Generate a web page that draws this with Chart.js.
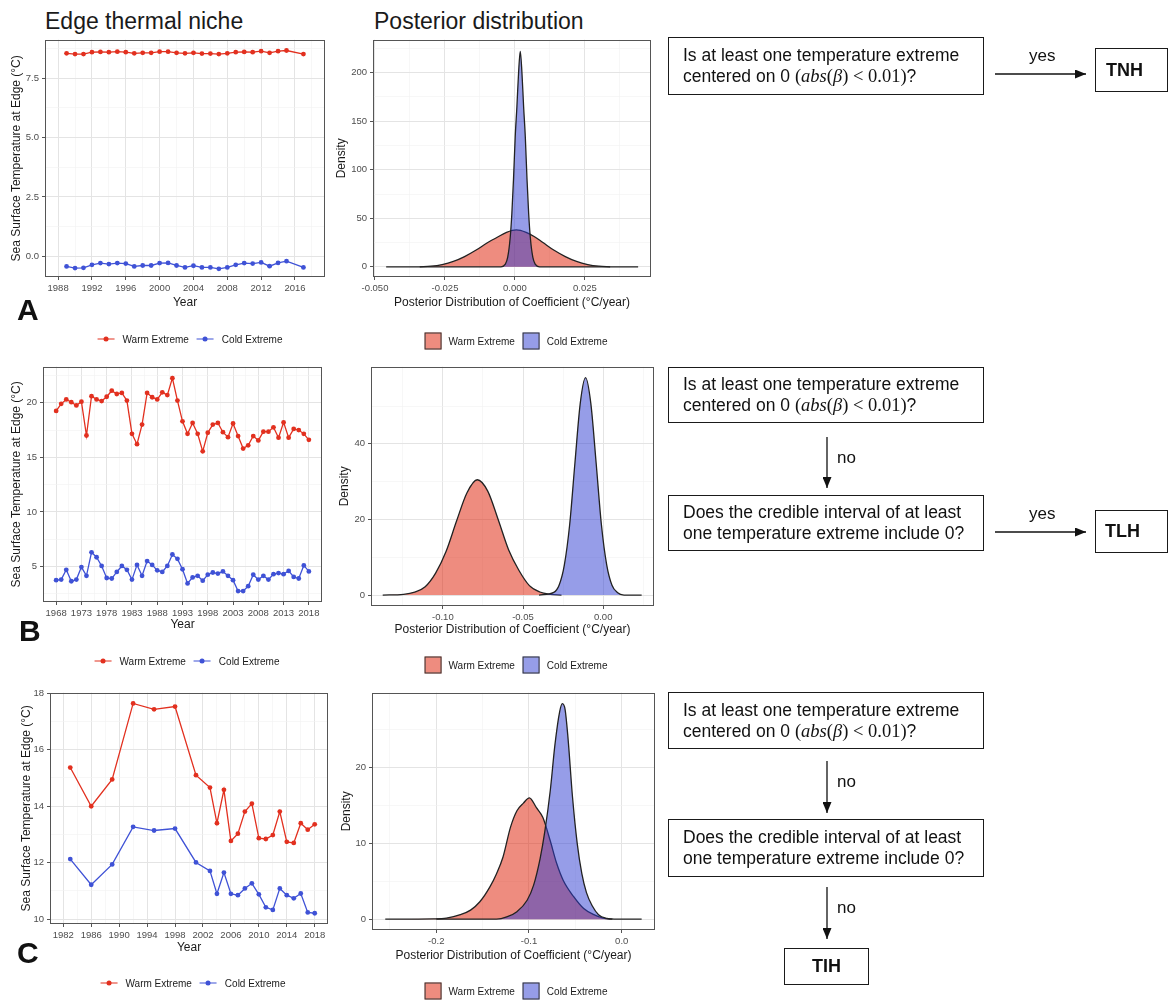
<!DOCTYPE html>
<html>
<head>
<meta charset="utf-8">
<title>Edge thermal niche and posterior distribution</title>
<script src="https://cdn.jsdelivr.net/npm/chart.js@4.4.1/dist/chart.umd.min.js"></script>
<style>
  html, body { margin: 0; padding: 0; background: #fff; }
  #fig { position: relative; width: 1174px; height: 1000px; overflow: hidden;
         font-family: "Liberation Sans", Arial, sans-serif; color: #111; }
  #fig canvas { position: absolute; }
  .head { position: absolute; font-size: 23px; line-height: 1; color: #1a1a1a; }
  .tag { position: absolute; font-size: 30px; font-weight: bold; line-height: 1; }
  .legend { position: absolute; display: flex; align-items: center; font-size: 10px; color: #1a1a1a;
            transform: translate(-50%, -50%); white-space: nowrap; }
  .legend .item { display: flex; align-items: center; margin-right: 8px; }
  .legend .item:last-child { margin-right: 0; }
  .legend .key-line { position: relative; width: 17px; height: 1.4px; margin-right: 8px; }
  .legend .key-line i { position: absolute; left: 6px; top: -2px; width: 5px; height: 5px; border-radius: 50%; }
  .legend .key-box { width: 17px; height: 17px; border: 1.3px solid #333; margin-right: 7px; box-sizing: border-box; }
  .box { position: absolute; border: 1.5px solid #1a1a1a; box-sizing: border-box; font-size: 17.5px;
         line-height: 21px; padding-left: 14px; display: flex; flex-direction: column; justify-content: center; }
  .end { position: absolute; border: 1.5px solid #1a1a1a; box-sizing: border-box; font-size: 18px;
         font-weight: bold; display: flex; align-items: center; }
  .lbl { position: absolute; font-size: 17px; line-height: 1; transform: translateY(-50%); }
  .m { font-family: "Liberation Serif", "DejaVu Serif", serif; font-size: 18.5px; }
  .m i { font-style: italic; }
</style>
</head>
<body>
<div id="fig">
  <div class="head" style="left:45px;top:10px">Edge thermal niche</div>
  <div class="head" style="left:374px;top:10px">Posterior distribution</div>

  <canvas id="sstA"></canvas>
  <canvas id="postA"></canvas>
  <canvas id="sstB"></canvas>
  <canvas id="postB"></canvas>
  <canvas id="sstC"></canvas>
  <canvas id="postC"></canvas>

  <div class="tag" style="left:17px;top:295px">A</div>
  <div class="tag" style="left:19px;top:616px">B</div>
  <div class="tag" style="left:17px;top:938px">C</div>

  <!-- decision tree -->
  <svg width="1174" height="1000" style="position:absolute;left:0;top:0">
    <defs>
      <marker id="head" markerWidth="11" markerHeight="9" refX="11" refY="4.5" orient="auto" markerUnits="userSpaceOnUse">
        <path d="M0,0 L11,4.5 L0,9 z" fill="#111"/>
      </marker>
    </defs>
    <g stroke="#111" stroke-width="1.3" marker-end="url(#head)">
      <line x1="995" y1="74" x2="1086" y2="74"/>
      <line x1="827" y1="437" x2="827" y2="488"/>
      <line x1="995" y1="532" x2="1086" y2="532"/>
      <line x1="827" y1="761" x2="827" y2="813"/>
      <line x1="827" y1="887" x2="827" y2="939"/>
    </g>
  </svg>

  <div class="box" style="left:668px;top:37px;width:316px;height:58px">
    <div>Is at least one temperature extreme</div>
    <div>centered on 0 <span class="m">(<i>abs</i>(<i>β</i>) &lt; 0.01)</span>?</div>
  </div>
  <div class="lbl" style="left:1029px;top:55px">yes</div>
  <div class="end" style="left:1095px;top:48px;width:73px;height:44px;padding-left:10px">TNH</div>

  <div class="box" style="left:668px;top:367px;width:316px;height:56px">
    <div>Is at least one temperature extreme</div>
    <div>centered on 0 <span class="m">(<i>abs</i>(<i>β</i>) &lt; 0.01)</span>?</div>
  </div>
  <div class="lbl" style="left:837px;top:457px">no</div>
  <div class="box" style="left:668px;top:495px;width:316px;height:56px">
    <div>Does the credible interval of at least</div>
    <div>one temperature extreme include 0?</div>
  </div>
  <div class="lbl" style="left:1029px;top:513px">yes</div>
  <div class="end" style="left:1095px;top:510px;width:73px;height:43px;padding-left:9px">TLH</div>

  <div class="box" style="left:668px;top:692px;width:316px;height:57px">
    <div>Is at least one temperature extreme</div>
    <div>centered on 0 <span class="m">(<i>abs</i>(<i>β</i>) &lt; 0.01)</span>?</div>
  </div>
  <div class="lbl" style="left:837px;top:781px">no</div>
  <div class="box" style="left:668px;top:819px;width:316px;height:58px">
    <div>Does the credible interval of at least</div>
    <div>one temperature extreme include 0?</div>
  </div>
  <div class="lbl" style="left:837px;top:907px">no</div>
  <div class="end" style="left:784px;top:948px;width:85px;height:37px;justify-content:center">TIH</div>
</div>

<script>
// --- edge sea surface temperature (°C) ---
const yearsA = [1989, 1990, 1991, 1992, 1993, 1994, 1995, 1996, 1997, 1998, 1999, 2000, 2001, 2002,
                2003, 2004, 2005, 2006, 2007, 2008, 2009, 2010, 2011, 2012, 2013, 2014, 2015, 2017];
const warmA = [8.55, 8.52, 8.52, 8.6, 8.61, 8.6, 8.62, 8.6, 8.55, 8.57, 8.57, 8.62, 8.62, 8.57,
               8.55, 8.57, 8.54, 8.54, 8.52, 8.55, 8.6, 8.61, 8.6, 8.64, 8.57, 8.64, 8.67, 8.52];
const coldA = [-0.43, -0.5, -0.49, -0.36, -0.29, -0.33, -0.29, -0.31, -0.43, -0.39, -0.39, -0.29, -0.28, -0.39,
               -0.47, -0.4, -0.47, -0.47, -0.53, -0.47, -0.36, -0.29, -0.31, -0.26, -0.42, -0.28, -0.21, -0.47];

const yearsB = [1968, 1969, 1970, 1971, 1972, 1973, 1974, 1975, 1976, 1977,
                1978, 1979, 1980, 1981, 1982, 1983, 1984, 1985, 1986, 1987,
                1988, 1989, 1990, 1991, 1992, 1993, 1994, 1995, 1996, 1997,
                1998, 1999, 2000, 2001, 2002, 2003, 2004, 2005, 2006, 2007,
                2008, 2009, 2010, 2011, 2012, 2013, 2014, 2015, 2016, 2017, 2018];
const warmB = [19.25, 19.9, 20.3, 20.05, 19.75, 20.1, 17.0, 20.6, 20.3, 20.15,
               20.55, 21.1, 20.8, 20.9, 20.2, 17.15, 16.2, 18.0, 20.9, 20.5,
               20.3, 20.95, 20.7, 22.25, 20.2, 18.3, 17.15, 18.15, 17.15, 15.55,
               17.25, 18.0, 18.15, 17.3, 16.85, 18.1, 16.95, 15.8, 16.1, 16.95,
               16.55, 17.35, 17.35, 17.75, 16.8, 18.2, 16.8, 17.6, 17.5, 17.15, 16.6];
const coldB = [3.75, 3.8, 4.7, 3.65, 3.8, 4.95, 4.15, 6.3, 5.85, 5.05,
               3.95, 3.9, 4.5, 5.05, 4.7, 3.8, 5.15, 4.15, 5.5, 5.15,
               4.65, 4.5, 5.05, 6.1, 5.7, 4.75, 3.45, 4.0, 4.15, 3.7,
               4.25, 4.45, 4.35, 4.55, 4.15, 3.75, 2.75, 2.75, 3.2, 4.25,
               3.8, 4.15, 3.8, 4.3, 4.4, 4.3, 4.6, 4.05, 3.9, 5.1, 4.55];

const yearsC = [1983, 1986, 1989, 1992, 1995, 1998, 2001, 2003, 2004, 2005, 2006, 2007,
                2008, 2009, 2010, 2011, 2012, 2013, 2014, 2015, 2016, 2017, 2018];
const warmC = [15.37, 14.0, 14.95, 17.64, 17.43, 17.53, 15.1, 14.66, 13.4, 14.58, 12.77, 13.03,
               13.81, 14.09, 12.87, 12.84, 12.98, 13.81, 12.74, 12.7, 13.4, 13.17, 13.36];
const coldC = [12.13, 11.22, 11.94, 13.27, 13.14, 13.21, 12.01, 11.71, 10.9, 11.65, 10.9, 10.85,
               11.09, 11.27, 10.88, 10.42, 10.33, 11.09, 10.85, 10.74, 10.91, 10.24, 10.21];

// --- posterior density of the trend coefficient (°C/year) ---
const coefWarmA = [-0.034, -0.030, -0.026, -0.022, -0.018, -0.014, -0.010, -0.006, -0.003, 0.0005,
                   0.004, 0.007, 0.010, 0.014, 0.018, 0.022, 0.026, 0.030, 0.034];
const densWarmA = [0, 0.6, 2.3, 5.5, 10.5, 17, 24.5, 31, 35.5, 38, 35.5, 31, 25, 17, 10.5, 5.5, 2.3, 0.6, 0];
const coefColdA = [-0.046, -0.0050, -0.0035, -0.0026, -0.0017, -0.0011, -0.0005, 0.0001, 0.0007, 0.0013, 0.0019,
                   0.0025, 0.0031, 0.0037, 0.0043, 0.0049, 0.0055, 0.0064, 0.0073, 0.0088, 0.044];
const densColdA = [0, 0, 2.5, 9.7, 30, 55, 91, 134, 165, 200, 222, 200, 165, 134, 91, 55, 30, 9.7, 2.5, 0, 0];

const coefWarmB = [-0.1375, -0.1245, -0.1175, -0.111, -0.1045, -0.098, -0.0915, -0.085, -0.0785,
                   -0.072, -0.0655, -0.059, -0.0525, -0.046, -0.0395, -0.033, -0.026];
const densWarmB = [0, 0.2, 0.8, 2.2, 5.8, 11.5, 19.5, 27, 30.5, 27.5, 20, 12, 6.5, 2.5, 0.8, 0.2, 0];
const coefColdB = [-0.040, -0.0308, -0.0275, -0.0242, -0.0209, -0.0176, -0.0143, -0.011, -0.0077,
                   -0.0044, -0.0011, 0.0022, 0.0055, 0.0088, 0.013, 0.024];
const densColdB = [0, 0.7, 2.6, 8, 18.6, 35, 50.7, 57.5, 50.7, 35, 18.6, 8, 2.6, 0.7, 0, 0];

const coefWarmC = [-0.255, -0.203, -0.189, -0.174, -0.163, -0.153, -0.142, -0.135, -0.128, -0.120, -0.113, -0.106,
                   -0.0996, -0.092, -0.085, -0.077, -0.070, -0.063, -0.052, -0.041, -0.030, -0.020, -0.010];
const densWarmC = [0, 0.05, 0.15, 0.6, 1.2, 2.3, 4.3, 6.0, 8.2, 12.1, 14.3, 15.3,
                   16.0, 14.7, 13.4, 10.3, 7.3, 5.1, 3.0, 1.4, 0.6, 0.13, 0];
const coefColdC = [-0.200, -0.135, -0.124, -0.113, -0.102, -0.095, -0.088, -0.083, -0.077, -0.072, -0.067, -0.064,
                   -0.061, -0.058, -0.053, -0.048, -0.043, -0.038, -0.032, -0.025, -0.016, -0.008, 0.0215];
const densColdC = [0, 0, 0.3, 1.0, 2.5, 4.5, 8, 11.5, 17, 23, 27.3, 28.4,
                   27.6, 24, 16, 10, 6, 3.5, 1.8, 0.6, 0.1, 0, 0];

// --- axis breaks ---
const yearTicksA = [1988, 1992, 1996, 2000, 2004, 2008, 2012, 2016];
const sstTicksA = [0, 2.5, 5, 7.5];
const yearTicksB = [1968, 1973, 1978, 1983, 1988, 1993, 1998, 2003, 2008, 2013, 2018];
const sstTicksB = [5, 10, 15, 20];
const yearTicksC = [1982, 1986, 1990, 1994, 1998, 2002, 2006, 2010, 2014, 2018];
const sstTicksC = [10, 12, 14, 16, 18];
const coefTicksA = [-0.05, -0.025, 0, 0.025];
const densTicksA = [0, 50, 100, 150, 200];
const coefTicksB = [-0.1, -0.05, 0];
const densTicksB = [0, 20, 40];
const coefTicksC = [-0.2, -0.1, 0];
const densTicksC = [0, 10, 20];

const seriesNames = ['Warm Extreme', 'Cold Extreme'];
const lineColors = ['#e2301f', '#3f52d6'];
const fillColors = ['rgba(222, 35, 10, 0.52)', 'rgba(45, 60, 210, 0.5)'];

Chart.defaults.font.family = '"Liberation Sans", Arial, sans-serif';
Chart.defaults.color = '#4d4d4d';

const GRID_MAJOR = '#e4e4e4';
const GRID_MINOR = '#f2f2f2';

// major breaks plus ggplot-style minor breaks halfway between them
function withMinor(majors, min, max) {
  const step = majors[1] - majors[0];
  const out = majors.map(v => ({ value: v, main: true }));
  for (let v = majors[0] - step / 2; v <= max; v += step) {
    if (v >= min) out.push({ value: v, main: false });
  }
  return out.sort((a, b) => a.value - b.value);
}

function axis(o) {
  const ticks = withMinor(o.ticks, o.min, o.max);
  const isMain = c => c.tick && c.tick.main;
  return {
    type: 'linear',
    bounds: 'data',
    min: o.min,
    max: o.max,
    afterBuildTicks: s => { s.ticks = ticks.map(t => ({ ...t })); },
    afterFit: s => { if (s.isHorizontal()) s.height = o.size; else s.width = o.size; },
    ticks: {
      autoSkip: false, maxRotation: 0, padding: 3, color: '#4d4d4d', font: { size: 9.5 },
      callback: (v, i, arr) => arr[i].main ? v.toFixed(o.digits) : ''
    },
    grid: {
      color: c => isMain(c) ? GRID_MAJOR : GRID_MINOR,
      lineWidth: c => isMain(c) ? 1 : 0.6,
      tickLength: 3,
      tickColor: c => isMain(c) ? '#555' : 'rgba(0,0,0,0)'
    },
    border: { display: false },
    title: { display: true, text: o.title, color: '#1a1a1a', font: { size: 12 }, padding: o.pad }
  };
}

const panelBorder = {
  id: 'panelBorder',
  afterDatasetsDraw(chart) {
    const { ctx, chartArea: a } = chart;
    ctx.save();
    ctx.strokeStyle = '#555';
    ctx.lineWidth = 1;
    ctx.strokeRect(Math.round(a.left) + 0.5, Math.round(a.top) + 0.5,
                   Math.round(a.right - a.left) - 1, Math.round(a.bottom - a.top) - 1);
    ctx.restore();
  }
};

// size the canvas so the plotting panel lands on the given box
function placeCanvas(id, plot, yW, xH) {
  const c = document.getElementById(id);
  const left = plot.l - yW, top = plot.t - 6;
  c.width = plot.r + 6 - left;
  c.height = plot.b + xH - top;
  c.style.left = left + 'px';
  c.style.top = top + 'px';
  return c;
}

function drawPanel(id, plot, xAxis, yAxis, datasets) {
  const canvas = placeCanvas(id, plot, yAxis.size, xAxis.size);
  new Chart(canvas, {
    type: 'line',
    data: { datasets },
    options: {
      responsive: false,
      animation: false,
      layout: { padding: { top: 6, right: 6, left: 0, bottom: 0 } },
      plugins: { legend: { display: false }, tooltip: { enabled: false } },
      scales: { x: axis(xAxis), y: axis(yAxis) }
    },
    plugins: [panelBorder]
  });
}

function sstSeries(years, warm, cold) {
  return [warm, cold].map((vals, k) => ({
    label: seriesNames[k],
    data: years.map((yr, i) => ({ x: yr, y: vals[i] })),
    borderColor: lineColors[k],
    backgroundColor: lineColors[k],
    borderWidth: 1.3,
    pointRadius: 2.4,
    pointBorderWidth: 0,
    tension: 0,
    order: 2 - k
  }));
}

function densitySeries(xw, dw, xc, dc) {
  return [[xw, dw], [xc, dc]].map(([xs, ds], k) => ({
    label: seriesNames[k],
    data: xs.map((x, i) => ({ x, y: ds[i] })),
    borderColor: '#222',
    borderWidth: 1.3,
    backgroundColor: fillColors[k],
    fill: 'origin',
    pointRadius: 0,
    cubicInterpolationMode: 'monotone',
    order: 2 - k
  }));
}

const yearTitle = 'Year';
const sstTitle = 'Sea Surface Temperature at Edge (°C)';
const coefTitle = 'Posterior Distribution of Coefficient (°C/year)';
const densTitle = 'Density';

drawPanel('sstA', { l: 45, t: 37, r: 325, b: 277 },
  { ticks: yearTicksA, min: 1986.45, max: 2019.55, digits: 0, size: 33, title: yearTitle, pad: 0 },
  { ticks: sstTicksA, min: -0.875, max: 9.125, digits: 1, size: 45, title: sstTitle, pad: { top: 9.8, bottom: 0 } },
  sstSeries(yearsA, warmA, coldA));

drawPanel('postA', { l: 373, t: 37, r: 651, b: 277 },
  { ticks: coefTicksA, min: -0.0507, max: 0.0486, digits: 3, size: 33, title: coefTitle, pad: 0 },
  { ticks: densTicksA, min: -10.5, max: 234, digits: 0, size: 40, title: densTitle, pad: { top: 1.8, bottom: 0 } },
  densitySeries(coefWarmA, densWarmA, coefColdA, densColdA));

drawPanel('sstB', { l: 43, t: 364, r: 322, b: 602 },
  { ticks: yearTicksB, min: 1965.4, max: 2020.6, digits: 0, size: 30, title: yearTitle, pad: 0 },
  { ticks: sstTicksB, min: 1.75, max: 23.3, digits: 0, size: 43, title: sstTitle, pad: { top: 9.8, bottom: 0 } },
  sstSeries(yearsB, warmB, coldB));

drawPanel('postB', { l: 371, t: 364, r: 654, b: 606 },
  { ticks: coefTicksB, min: -0.1448, max: 0.0317, digits: 2, size: 31, title: coefTitle, pad: 0 },
  { ticks: densTicksB, min: -2.9, max: 60.4, digits: 0, size: 40, title: densTitle, pad: { top: 6.8, bottom: 0 } },
  densitySeries(coefWarmB, densWarmB, coefColdB, densColdB));

drawPanel('sstC', { l: 50, t: 690, r: 328, b: 924 },
  { ticks: yearTicksC, min: 1980.1, max: 2019.9, digits: 0, size: 31, title: yearTitle, pad: 0 },
  { ticks: sstTicksC, min: 9.83, max: 18.02, digits: 0, size: 50, title: sstTitle, pad: { top: 19.8, bottom: 0 } },
  sstSeries(yearsC, warmC, coldC));

drawPanel('postC', { l: 372, t: 690, r: 655, b: 930 },
  { ticks: coefTicksC, min: -0.2693, max: 0.0359, digits: 1, size: 33, title: coefTitle, pad: 0 },
  { ticks: densTicksC, min: -1.42, max: 29.85, digits: 0, size: 40, title: densTitle, pad: { top: 7.8, bottom: 0 } },
  densitySeries(coefWarmC, densWarmC, coefColdC, densColdC));

// legends under each panel
const fig = document.getElementById('fig');
function addLegend(kind, cx, cy) {
  const el = document.createElement('div');
  el.className = 'legend';
  el.style.left = cx + 'px';
  el.style.top = cy + 'px';
  seriesNames.forEach((name, k) => {
    const item = document.createElement('span');
    item.className = 'item';
    const key = document.createElement('span');
    if (kind === 'line') {
      key.className = 'key-line';
      key.style.background = lineColors[k];
      key.innerHTML = '<i style="background:' + lineColors[k] + '"></i>';
    } else {
      key.className = 'key-box';
      key.style.background = fillColors[k];
    }
    item.appendChild(key);
    item.appendChild(document.createTextNode(name));
    el.appendChild(item);
  });
  fig.appendChild(el);
}

addLegend('line', 190, 339);
addLegend('box', 516, 341);
addLegend('line', 187, 661);
addLegend('box', 516, 665);
addLegend('line', 193, 983);
addLegend('box', 516, 991);
</script>
</body>
</html>
